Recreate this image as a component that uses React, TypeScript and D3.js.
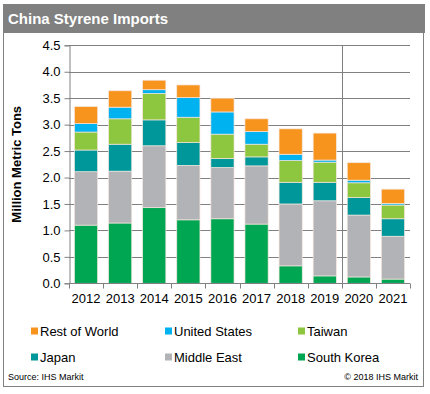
import React, { useEffect, useRef } from 'react';
import * as d3 from 'd3';

const years = ['2012', '2013', '2014', '2015', '2016', '2017', '2018', '2019', '2020', '2021'];

// stack order bottom -> top
const southKorea = [1.1, 1.14, 1.43, 1.2, 1.22, 1.12, 0.33, 0.14, 0.12, 0.08];
const middleEast = [1.01, 0.98, 1.17, 1.03, 0.97, 1.1, 1.17, 1.42, 1.17, 0.81];
const japan = [0.41, 0.51, 0.49, 0.43, 0.17, 0.17, 0.41, 0.35, 0.33, 0.33];
const taiwan = [0.34, 0.48, 0.5, 0.48, 0.46, 0.24, 0.41, 0.38, 0.28, 0.26];
const unitedStates = [0.16, 0.22, 0.07, 0.37, 0.42, 0.24, 0.12, 0.04, 0.05, 0.03];
const restOfWorld = [0.32, 0.31, 0.18, 0.24, 0.26, 0.24, 0.48, 0.51, 0.33, 0.27];

const seriesNames = ['South Korea', 'Middle East', 'Japan', 'Taiwan', 'United States', 'Rest of World'];
const seriesValues = [southKorea, middleEast, japan, taiwan, unitedStates, restOfWorld];
const seriesColors = ['#00A651', '#B1B3B6', '#00979A', '#8DC63F', '#00B2EF', '#F7941D'];

// legend is read left-to-right, top-to-bottom
const legendOrder = ['Rest of World', 'United States', 'Taiwan', 'Japan', 'Middle East', 'South Korea'];

const yTicks = [0, 0.5, 1, 1.5, 2, 2.5, 3, 3.5, 4, 4.5];

const font = 'Arial, "Liberation Sans", sans-serif';

const App = () => {
    const svgRef = useRef<SVGSVGElement>(null);

    useEffect(() => {
        const width = 430;
        const height = 394;
        const left = 69;
        const right = 410;
        const top = 45.3;
        const bottom = 283.3;

        const svg = d3.select(svgRef.current);
        svg.selectAll('*').remove();
        svg.attr('width', width).attr('height', height);

        // frame + title bar
        svg.append('rect')
            .attr('x', 3.5).attr('y', 4.5).attr('width', 420).attr('height', 382)
            .attr('fill', 'white').attr('stroke', '#808080').attr('stroke-width', 1);
        svg.append('rect')
            .attr('x', 3).attr('y', 4).attr('width', 422).attr('height', 29)
            .attr('fill', '#808080');
        svg.append('text')
            .attr('x', 8).attr('y', 23.5)
            .attr('fill', 'white')
            .style('font-family', font).style('font-weight', 'bold').style('font-size', '15px')
            .text('China Styrene Imports');

        const x = d3.scaleBand().domain(years).range([left, right]).paddingInner(0.32).paddingOuter(0.16);
        const xb = d3.scaleBand().domain(years).range([left, right]);
        const y = d3.scaleLinear().domain([0, 4.5]).range([bottom, top]);

        // gridlines
        svg.append('g').selectAll('line')
            .data(yTicks.filter(t => t > 0))
            .join('line')
            .attr('x1', left).attr('x2', right)
            .attr('y1', d => Math.round(y(d)) + 0.5).attr('y2', d => Math.round(y(d)) + 0.5)
            .attr('stroke', '#808080').attr('stroke-width', 1);

        // separator between history and forecast
        const sepX = Math.round(xb('2020') as number) + 0.5;
        svg.append('line')
            .attr('x1', sepX).attr('x2', sepX).attr('y1', top).attr('y2', bottom)
            .attr('stroke', '#808080').attr('stroke-width', 1);

        // stacked bars
        const rows = years.map((yr, i) => {
            const r: Record<string, number | string> = { year: yr };
            seriesNames.forEach((n, k) => { r[n] = seriesValues[k][i]; });
            return r;
        });
        const stack = d3.stack<Record<string, number | string>>().keys(seriesNames);
        const layers = stack(rows as any);

        svg.append('g').selectAll('g')
            .data(layers)
            .join('g')
            .attr('fill', (_, i) => seriesColors[i])
            .selectAll('rect')
            .data(d => d)
            .join('rect')
            .attr('x', d => x(d.data.year as string) as number)
            .attr('width', x.bandwidth())
            .attr('y', d => y(d[1]))
            .attr('height', d => y(d[0]) - y(d[1]))
            .attr('stroke', '#F6E6DE')
            .attr('stroke-width', 0.7);

        // axes
        const yAxis = svg.append('g')
            .attr('transform', `translate(${left + 0.5},0)`)
            .call(d3.axisLeft(y).tickValues(yTicks).tickFormat(d3.format('.1f')).tickSize(5).tickPadding(4));
        yAxis.select('.domain').attr('stroke', '#808080');
        yAxis.selectAll('line').attr('stroke', '#808080');
        yAxis.selectAll('text')
            .style('font-family', font).style('font-size', '13px').attr('fill', '#000');

        const xAxisG = svg.append('g').attr('transform', `translate(0,${Math.round(bottom) + 0.5})`);
        xAxisG.append('line')
            .attr('x1', left).attr('x2', right).attr('y1', 0).attr('y2', 0)
            .attr('stroke', '#808080');
        xAxisG.selectAll('line.tick')
            .data([...years.map(yr => xb(yr) as number), right])
            .join('line')
            .attr('class', 'tick')
            .attr('x1', d => Math.round(d) + 0.5).attr('x2', d => Math.round(d) + 0.5)
            .attr('y1', 0).attr('y2', 5)
            .attr('stroke', '#808080');
        xAxisG.selectAll('text')
            .data(years)
            .join('text')
            .attr('x', d => (xb(d) as number) + xb.bandwidth() / 2)
            .attr('y', 19)
            .attr('text-anchor', 'middle')
            .style('font-family', font).style('font-size', '13px')
            .text(d => d);

        // y title
        svg.append('text')
            .attr('transform', `translate(21,${(top + bottom) / 2}) rotate(-90)`)
            .attr('text-anchor', 'middle')
            .style('font-family', font).style('font-weight', 'bold').style('font-size', '13px')
            .text('Million Metric Tons');

        // legend
        const colX = [31, 165, 298];
        const rowY = [331, 357];
        const legend = svg.append('g').selectAll('g')
            .data(legendOrder)
            .join('g')
            .attr('transform', (_, i) => `translate(${colX[i % 3]},${rowY[Math.floor(i / 3)]})`);
        legend.append('rect')
            .attr('x', 0).attr('y', -3.5).attr('width', 7).attr('height', 7)
            .attr('fill', d => seriesColors[seriesNames.indexOf(d)]);
        legend.append('text')
            .attr('x', 9).attr('y', 4.5)
            .style('font-family', font).style('font-size', '13px')
            .text(d => d);

        // footer
        svg.append('text')
            .attr('x', 8).attr('y', 379.5)
            .style('font-family', font).style('font-size', '9px')
            .text('Source:  IHS Markit');
        svg.append('text')
            .attr('x', 418).attr('y', 379.5)
            .attr('text-anchor', 'end')
            .style('font-family', font).style('font-size', '9px')
            .text('\u00A9 2018 IHS Markit');
    }, []);

    return <svg ref={svgRef} style={{ position: 'absolute', left: 0, top: 0 }}></svg>;
};

export default App;
